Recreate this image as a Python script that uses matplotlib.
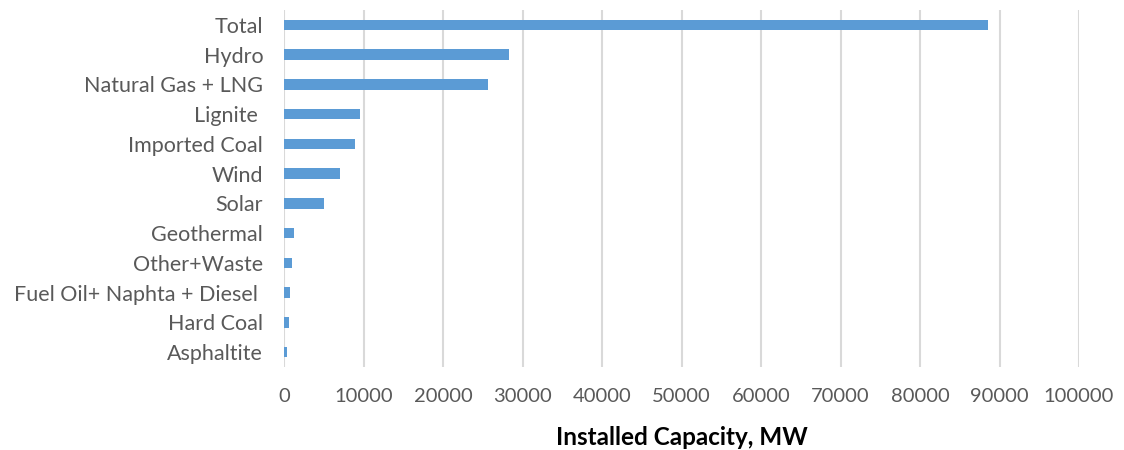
import numpy as np
import matplotlib.pyplot as plt

# installed capacity by source, MW
sources = ["Total", "Hydro", "Natural Gas + LNG", "Lignite ", "Imported Coal",
           "Wind", "Solar", "Geothermal", "Other+Waste",
           "Fuel Oil+ Naphta + Diesel ", "Hard Coal", "Asphaltite"]
capacity = [88550, 28300, 25700, 9600, 8970, 7040, 5070, 1300, 970, 720, 650, 410]
xticks = [0, 10000, 20000, 30000, 40000, 50000, 60000, 70000, 80000, 90000, 100000]

plt.rcParams['font.family'] = ['Lato', 'DejaVu Sans']

fig = plt.figure(figsize=(11.24, 4.5), dpi=100)
ax = fig.add_axes([284/1124, 1 - 367/450, (1079 - 284)/1124, 357/450])

ypos = np.arange(len(sources))[::-1]
ax.barh(ypos, capacity, height=0.35, color="#5B9BD5", zorder=3)

ax.set_ylim(-0.5, len(sources) - 0.5)
ax.set_xlim(0, 100000)
ax.set_yticks(ypos)
ax.set_yticklabels(sources)
ax.set_xticks(xticks)
ax.set_xticklabels([str(t) for t in xticks])

ax.grid(axis="x", color="#d9d9d9", linewidth=1.5, zorder=0)
for s in ax.spines.values():
    s.set_visible(False)
ax.tick_params(axis="both", length=0, labelcolor="#595959")
ax.tick_params(axis="y", pad=15, labelsize=15.5)
ax.tick_params(axis="x", pad=15, labelsize=14.5)

ax.set_xlabel("Installed Capacity, MW", fontsize=17.5, fontweight="bold",
              color="black", labelpad=15)

fig.savefig("out.png", dpi=100)
